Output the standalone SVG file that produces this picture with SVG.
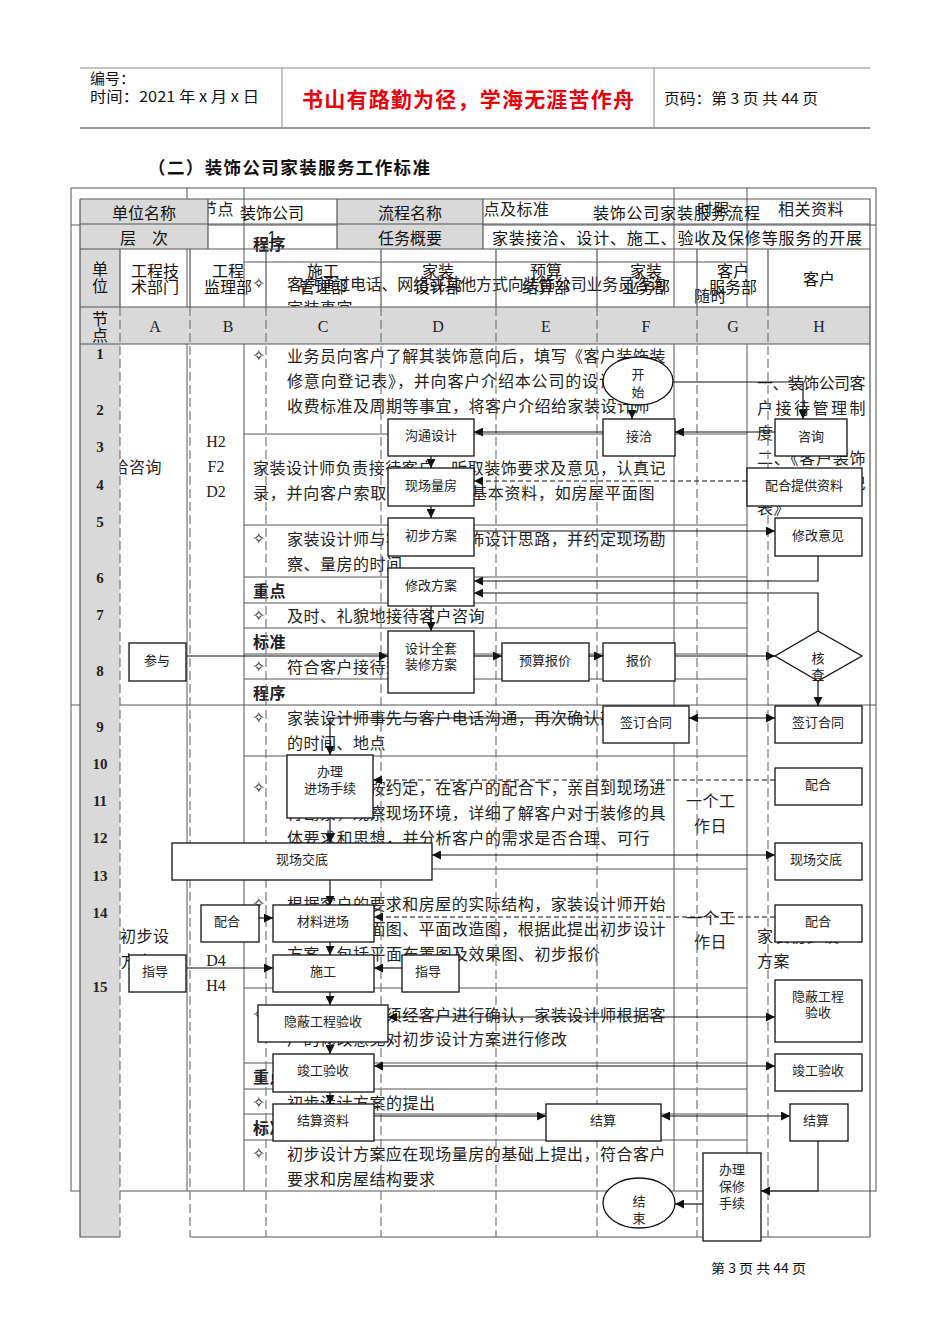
<svg xmlns="http://www.w3.org/2000/svg" width="950" height="1344" viewBox="0 0 950 1344">
<style>
.t{font-family:"Noto Sans CJK SC","Noto Sans",sans-serif;fill:#111}
.u{font-family:"Noto Sans CJK SC","Noto Sans",sans-serif;font-size:16px;fill:#222;dominant-baseline:central;letter-spacing:0.5px}
.ub{font-weight:bold}
.st{font-family:"DejaVu Sans",sans-serif;font-size:16px;fill:#222;dominant-baseline:central}
.s{font-family:"Liberation Serif",serif;font-size:16px;fill:#222;dominant-baseline:central;text-anchor:middle}
.num{font-family:"Liberation Serif",serif;font-size:15px;font-weight:bold;fill:#222;dominant-baseline:central;text-anchor:middle}
.h{font-family:"Noto Sans CJK SC","Noto Sans",sans-serif;font-size:16px;fill:#111;dominant-baseline:central;text-anchor:middle}
.b{font-family:"Noto Sans CJK SC","Noto Sans",sans-serif;font-size:13px;fill:#222;dominant-baseline:central;text-anchor:middle}
.ul{stroke:#555;stroke-width:1;fill:none}
.ol{stroke:#555;stroke-width:1.2;fill:none}
.ln{stroke:#777;stroke-width:1.2;stroke-dasharray:9 4;fill:none}
.gray{fill:#d9d9d9}
.box{fill:#fff;stroke:#111;stroke-width:1.3}
.c{stroke:#111;stroke-width:1.2;fill:none}
.cd{stroke:#111;stroke-width:1.2;fill:none;stroke-dasharray:5 3}
</style>
<defs>
<marker id="ah" viewBox="0 0 10 10" refX="10" refY="5" markerWidth="10" markerHeight="9" markerUnits="userSpaceOnUse" orient="auto-start-reverse"><path d="M0,0 L10,5 L0,10 z" fill="#111"/></marker>
</defs>
<rect width="950" height="1344" fill="#fff"/>

<!-- page header -->
<g id="page-header">
<line x1="80" y1="68" x2="870" y2="68" stroke="#888" stroke-width="1"/>
<line x1="80" y1="128" x2="870" y2="128" stroke="#999" stroke-width="2"/>
<line x1="282" y1="68" x2="282" y2="128" stroke="#888" stroke-width="1"/>
<line x1="654" y1="68" x2="654" y2="128" stroke="#888" stroke-width="1"/>
<text class="t" x="90" y="84" font-size="15">编号：</text>
<text class="t" x="90" y="102" font-size="15" textLength="169" lengthAdjust="spacingAndGlyphs">时间：2021 年 x 月 x 日</text>
<text class="t" x="302" y="107" font-size="21" font-weight="bold" style="fill:#e8000b" textLength="332" lengthAdjust="spacing">书山有路勤为径，学海无涯苦作舟</text>
<text class="t" x="664" y="104" font-size="15" textLength="154" lengthAdjust="spacingAndGlyphs">页码：第 3 页 共 44 页</text>
</g>
<text class="t" x="148" y="174" font-size="17.5" font-weight="bold" textLength="282" lengthAdjust="spacing">（二）装饰公司家装服务工作标准</text>

<!-- underlying table text -->
<g id="base-text">
<text class="u" x="201" y="208">节点</text>
<text class="u" x="467" y="208">重点及标准</text>
<text class="u" x="697" y="208">时限</text>
<text class="u" x="778" y="208">相关资料</text>
<text class="u ub" x="253" y="243">程序</text>
<text class="st" x="252" y="283">✧</text>
<text class="u" x="287" y="283" textLength="379" lengthAdjust="spacing">客户通过电话、网络或其他方式向装饰公司业务员咨询</text>
<text class="u" x="287" y="307">家装事宜</text>
<text class="u" x="694" y="295">随时</text>

<text class="st" x="252" y="355">✧</text>
<text class="u" x="287" y="355" textLength="379" lengthAdjust="spacing">业务员向客户了解其装饰意向后，填写《客户装饰装</text>
<text class="u" x="287" y="380" textLength="379" lengthAdjust="spacing">修意向登记表》，并向客户介绍本公司的设计理念、</text>
<text class="u" x="287" y="405">收费标准及周期等事宜，将客户介绍给家装设计师</text>
<text class="u" x="253" y="467" textLength="413" lengthAdjust="spacing">家装设计师负责接待客户，听取装饰要求及意见，认真记</text>
<text class="u" x="253" y="492" textLength="402" lengthAdjust="spacing">录，并向客户索取装修房屋的基本资料，如房屋平面图</text>
<text class="st" x="252" y="538">✧</text>
<text class="u" x="287" y="538" textLength="379" lengthAdjust="spacing">家装设计师与客户沟通装饰设计思路，并约定现场勘</text>
<text class="u" x="287" y="563">察、量房的时间</text>
<text class="u ub" x="253" y="590">重点</text>
<text class="st" x="252" y="615">✧</text>
<text class="u" x="287" y="615">及时、礼貌地接待客户咨询</text>
<text class="u ub" x="253" y="641">标准</text>
<text class="st" x="252" y="666">✧</text>
<text class="u" x="287" y="666">符合客户接待规范</text>
<text class="u ub" x="253" y="692">程序</text>
<text class="st" x="252" y="717">✧</text>
<text class="u" x="287" y="717" textLength="379" lengthAdjust="spacing">家装设计师事先与客户电话沟通，再次确认勘察量房</text>
<text class="u" x="287" y="742">的时间、地点</text>
<text class="st" x="252" y="787">✧</text>
<text class="u" x="287" y="787" textLength="379" lengthAdjust="spacing">家装设计师按约定，在客户的配合下，亲自到现场进</text>
<text class="u" x="287" y="812" textLength="379" lengthAdjust="spacing">行勘察，观察现场环境，详细了解客户对于装修的具</text>
<text class="u" x="287" y="837">体要求和思想，并分析客户的需求是否合理、可行</text>
<text class="st" x="252" y="903">✧</text>
<text class="u" x="287" y="903" textLength="379" lengthAdjust="spacing">根据客户的要求和房屋的实际结构，家装设计师开始</text>
<text class="u" x="287" y="928" textLength="379" lengthAdjust="spacing">绘制原始平面图、平面改造图，根据此提出初步设计</text>
<text class="u" x="287" y="953">方案，包括平面布置图及效果图、初步报价</text>
<text class="st" x="252" y="1014">✧</text>
<text class="u" x="287" y="1014" textLength="379" lengthAdjust="spacing">初步设计方案须经客户进行确认，家装设计师根据客</text>
<text class="u" x="287" y="1038">户的修改意见对初步设计方案进行修改</text>
<text class="u ub" x="253" y="1076">重点</text>
<text class="st" x="252" y="1102">✧</text>
<text class="u" x="287" y="1102">初步设计方案的提出</text>
<text class="u ub" x="253" y="1127">标准</text>
<text class="st" x="252" y="1153">✧</text>
<text class="u" x="287" y="1153" textLength="379" lengthAdjust="spacing">初步设计方案应在现场量房的基础上提出，符合客户</text>
<text class="u" x="287" y="1178">要求和房屋结构要求</text>

<text class="u" x="96" y="466">接洽咨询</text>
<text class="u" x="87" y="935">提出初步设</text>
<text class="u" x="104" y="960">计方案</text>
<text class="s" x="216" y="441">H2</text>
<text class="s" x="216" y="466">F2</text>
<text class="s" x="216" y="491">D2</text>
<text class="s" x="216" y="960">D4</text>
<text class="s" x="216" y="985">H4</text>
<text class="u" x="686" y="800">一个工</text>
<text class="u" x="694" y="825">作日</text>
<text class="u" x="686" y="917">一个工</text>
<text class="u" x="694" y="941">作日</text>
<text class="u" x="757" y="382" textLength="109" lengthAdjust="spacing">一、装饰公司客</text>
<text class="u" x="757" y="407" textLength="109" lengthAdjust="spacing">户接待管理制</text>
<text class="u" x="757" y="432">度</text>
<text class="u" x="757" y="457" textLength="109" lengthAdjust="spacing">二、《客户装饰</text>
<text class="u" x="757" y="482" textLength="109" lengthAdjust="spacing">装修意向登记</text>
<text class="u" x="757" y="507">表》</text>
<text class="u" x="757" y="935">家装初步设</text>
<text class="u" x="757" y="960">方案</text>
</g>

<!-- underlying table lines -->
<g id="base-lines" class="ul">
<rect x="71" y="188" width="805" height="1003"/>
<line x1="71" y1="225" x2="876" y2="225"/>
<line x1="71" y1="705" x2="876" y2="705"/>
<line x1="187" y1="188" x2="187" y2="1191"/>
<line x1="244" y1="188" x2="244" y2="1191"/>
<line x1="674" y1="188" x2="674" y2="1191"/>
<line x1="747" y1="188" x2="747" y2="1191"/>
<path d="M244,262H747 M244,434H747 M244,525H747 M244,577H747 M244,603H747 M244,628H747 M244,654H747 M244,679H747 M244,756H747 M244,869H747 M244,988H747 M244,1063H747 M244,1089H747 M244,1114H747 M244,1140H747"/>
</g>

<!-- swimlane chart frame -->
<g id="chart-frame">
<rect class="gray" x="80" y="199" width="128" height="50"/>
<rect class="gray" x="337" y="199" width="146" height="50"/>
<rect class="gray" x="80" y="249" width="40" height="988"/>
<rect class="gray" x="80" y="307" width="790" height="37"/>
<g class="ol">
<path d="M80,199H870V1237 M80,199V1237H120 M190,1237H870"/>
<path d="M80,224H870 M80,249H870 M80,307H870 M80,344H870"/>
<path d="M208,199V249 M337,199V249 M483,199V249"/>
<path d="M120,249V307 M190,249V307 M266,249V307 M381,249V307 M496,249V307 M597,249V307 M697,249V307 M768,249V307"/>
</g>
<path class="ln" d="M120,307V1237 M190,307V1237 M266,307V1237 M381,307V1237 M496,307V1237 M597,307V1237 M697,307V1237 M768,307V1237"/>
<text class="h" x="144" y="212">单位名称</text>
<text class="h" x="272" y="212">装饰公司</text>
<text class="h" x="410" y="212">流程名称</text>
<text class="h" x="593" y="212" style="text-anchor:start" textLength="167" lengthAdjust="spacing">装饰公司家装服务流程</text>
<text class="h" x="144" y="237">层　次</text>
<text class="h" x="272" y="237" style="font-family:'Liberation Sans',sans-serif">1</text>
<text class="h" x="410" y="237">任务概要</text>
<text class="h" x="492" y="237" style="text-anchor:start" textLength="370" lengthAdjust="spacing">家装接洽、设计、施工、验收及保修等服务的开展</text>
<text class="h" x="100" y="268">单</text><text class="h" x="100" y="285">位</text>
<text class="h" x="155" y="270">工程技</text><text class="h" x="155" y="286">术部门</text>
<text class="h" x="228" y="270">工程</text><text class="h" x="228" y="286">监理部</text>
<text class="h" x="323" y="270">施工</text><text class="h" x="323" y="286">管理部</text>
<text class="h" x="438" y="270">家装</text><text class="h" x="438" y="286">设计部</text>
<text class="h" x="546" y="270">预算</text><text class="h" x="546" y="286">结算部</text>
<text class="h" x="646" y="270">家装</text><text class="h" x="646" y="286">业务部</text>
<text class="h" x="733" y="270">客户</text><text class="h" x="733" y="286">服务部</text>
<text class="h" x="819" y="278">客户</text>
<text class="h" x="100" y="318">节</text><text class="h" x="100" y="334">点</text>
<text class="s" x="155" y="326">A</text>
<text class="s" x="228" y="326">B</text>
<text class="s" x="323" y="326">C</text>
<text class="s" x="438" y="326">D</text>
<text class="s" x="546" y="326">E</text>
<text class="s" x="646" y="326">F</text>
<text class="s" x="733" y="326">G</text>
<text class="s" x="819" y="326">H</text>
<text class="num" x="100" y="354">1</text>
<text class="num" x="100" y="410">2</text>
<text class="num" x="100" y="447">3</text>
<text class="num" x="100" y="485">4</text>
<text class="num" x="100" y="522">5</text>
<text class="num" x="100" y="578">6</text>
<text class="num" x="100" y="615">7</text>
<text class="num" x="100" y="671">8</text>
<text class="num" x="100" y="727">9</text>
<text class="num" x="100" y="764">10</text>
<text class="num" x="100" y="801">11</text>
<text class="num" x="100" y="838">12</text>
<text class="num" x="100" y="876">13</text>
<text class="num" x="100" y="913">14</text>
<text class="num" x="100" y="987">15</text>
</g>

<!-- connectors -->
<g id="connectors">
<path class="c" d="M673,382H803V419" marker-end="url(#ah)"/>
<path class="c" d="M632,405V419" marker-end="url(#ah)"/>
<path class="c" d="M775,432H675" marker-end="url(#ah)"/>
<path class="c" d="M603,432H474" marker-end="url(#ah)"/>
<path class="c" d="M431,456V468" marker-end="url(#ah)"/>
<path class="cd" d="M747,481H474" marker-end="url(#ah)"/>
<path class="c" d="M431,506V518" marker-end="url(#ah)"/>
<path class="c" d="M474,531H775" marker-end="url(#ah)"/>
<path class="c" d="M818,556V581H474" marker-end="url(#ah)"/>
<path class="c" d="M818,631V593H474" marker-end="url(#ah)"/>
<path class="c" d="M431,606V631" marker-end="url(#ah)"/>
<path class="c" d="M186,656H388" marker-end="url(#ah)"/>
<path class="c" d="M474,656H502" marker-end="url(#ah)"/>
<path class="c" d="M589,656H603" marker-end="url(#ah)"/>
<path class="c" d="M675,656H775" marker-end="url(#ah)"/>
<path class="c" d="M818,681V706" marker-end="url(#ah)"/>
<path class="c" d="M689,718H775" marker-start="url(#ah)" marker-end="url(#ah)"/>
<path class="c" d="M603,718H330V755" marker-end="url(#ah)"/>
<path class="cd" d="M775,780H373" marker-end="url(#ah)"/>
<path class="c" d="M330,818V843" marker-end="url(#ah)"/>
<path class="c" d="M432,855H775" marker-start="url(#ah)" marker-end="url(#ah)"/>
<path class="c" d="M330,880V905" marker-end="url(#ah)"/>
<path class="c" d="M259,918H273" marker-end="url(#ah)"/>
<path class="cd" d="M775,917H374" marker-end="url(#ah)"/>
<path class="c" d="M330,942V955" marker-end="url(#ah)"/>
<path class="c" d="M186,968H273" marker-end="url(#ah)"/>
<path class="c" d="M402,968H374" marker-end="url(#ah)"/>
<path class="c" d="M330,992V1005" marker-end="url(#ah)"/>
<path class="c" d="M388,1017H775" marker-start="url(#ah)" marker-end="url(#ah)"/>
<path class="c" d="M330,1042V1054" marker-end="url(#ah)"/>
<path class="c" d="M374,1066H775" marker-start="url(#ah)" marker-end="url(#ah)"/>
<path class="c" d="M330,1092V1104" marker-end="url(#ah)"/>
<path class="c" d="M374,1116H546" marker-end="url(#ah)"/>
<path class="c" d="M661,1116H790" marker-start="url(#ah)" marker-end="url(#ah)"/>
<path class="c" d="M818,1141V1191H761" marker-end="url(#ah)"/>
<path class="c" d="M703,1204H675" marker-end="url(#ah)"/>
</g>

<!-- nodes -->
<g id="n-start"><ellipse class="box" cx="638" cy="381" rx="35" ry="24"/><text class="b" x="638" y="373">开</text><text class="b" x="638" y="391">始</text></g>
<g id="n-jieqia"><rect class="box" x="603" y="419" width="72" height="37"/><text class="b" x="639" y="435">接洽</text></g>
<g id="n-zixun"><rect class="box" x="775" y="419" width="72" height="37"/><text class="b" x="811" y="435">咨询</text></g>
<g id="n-goutong"><rect class="box" x="388" y="419" width="86" height="37"/><text class="b" x="431" y="434">沟通设计</text></g>
<g id="n-liangfang"><rect class="box" x="388" y="468" width="86" height="38"/><text class="b" x="431" y="484">现场量房</text></g>
<g id="n-ziliao"><rect class="box" x="747" y="468" width="115" height="38"/><text class="b" x="804" y="484">配合提供资料</text></g>
<g id="n-chubu"><rect class="box" x="388" y="518" width="86" height="38"/><text class="b" x="431" y="534">初步方案</text></g>
<g id="n-yijian"><rect class="box" x="775" y="518" width="87" height="38"/><text class="b" x="818" y="534">修改意见</text></g>
<g id="n-xiugai"><rect class="box" x="388" y="568" width="86" height="38"/><text class="b" x="431" y="584">修改方案</text></g>
<g id="n-quantao"><rect class="box" x="388" y="631" width="86" height="62"/><text class="b" x="431" y="647">设计全套</text><text class="b" x="431" y="663">装修方案</text></g>
<g id="n-canyu"><rect class="box" x="129" y="643" width="57" height="38"/><text class="b" x="157" y="659">参与</text></g>
<g id="n-yusuan"><rect class="box" x="502" y="643" width="87" height="38"/><text class="b" x="545" y="659">预算报价</text></g>
<g id="n-baojia"><rect class="box" x="603" y="643" width="72" height="38"/><text class="b" x="639" y="659">报价</text></g>
<g id="n-hecha"><polygon class="box" points="818,631 862,656 818,681 775,656"/><text class="b" x="818" y="657">核</text><text class="b" x="818" y="673">查</text></g>
<g id="n-hetong-f"><rect class="box" x="603" y="706" width="86" height="37"/><text class="b" x="646" y="721">签订合同</text></g>
<g id="n-hetong-h"><rect class="box" x="775" y="706" width="87" height="37"/><text class="b" x="818" y="721">签订合同</text></g>
<g id="n-jinchang"><rect class="box" x="287" y="755" width="86" height="63"/><text class="b" x="330" y="770">办理</text><text class="b" x="330" y="787">进场手续</text></g>
<g id="n-peihe-h1"><rect class="box" x="775" y="768" width="87" height="37"/><text class="b" x="818" y="783">配合</text></g>
<g id="n-jiaodi-c"><rect class="box" x="172" y="843" width="260" height="37"/><text class="b" x="302" y="858">现场交底</text></g>
<g id="n-jiaodi-h"><rect class="box" x="775" y="843" width="87" height="37"/><text class="b" x="816" y="858">现场交底</text></g>
<g id="n-peihe-b"><rect class="box" x="201" y="905" width="58" height="37"/><text class="b" x="227" y="920">配合</text></g>
<g id="n-cailiao"><rect class="box" x="273" y="905" width="101" height="37"/><text class="b" x="323" y="920">材料进场</text></g>
<g id="n-peihe-h2"><rect class="box" x="775" y="905" width="87" height="37"/><text class="b" x="818" y="920">配合</text></g>
<g id="n-zhidao-a"><rect class="box" x="129" y="955" width="57" height="37"/><text class="b" x="155" y="970">指导</text></g>
<g id="n-shigong"><rect class="box" x="273" y="955" width="101" height="37"/><text class="b" x="323" y="970">施工</text></g>
<g id="n-zhidao-d"><rect class="box" x="402" y="955" width="57" height="37"/><text class="b" x="428" y="970">指导</text></g>
<g id="n-yinbi-c"><rect class="box" x="258" y="1005" width="130" height="37"/><text class="b" x="323" y="1020">隐蔽工程验收</text></g>
<g id="n-yinbi-h"><rect class="box" x="775" y="980" width="87" height="62"/><text class="b" x="818" y="995">隐蔽工程</text><text class="b" x="818" y="1011">验收</text></g>
<g id="n-jungong-c"><rect class="box" x="273" y="1054" width="101" height="38"/><text class="b" x="323" y="1069">竣工验收</text></g>
<g id="n-jungong-h"><rect class="box" x="775" y="1054" width="87" height="37"/><text class="b" x="818" y="1069">竣工验收</text></g>
<g id="n-jiesuanziliao"><rect class="box" x="273" y="1104" width="101" height="37"/><text class="b" x="323" y="1119">结算资料</text></g>
<g id="n-jiesuan"><rect class="box" x="546" y="1104" width="115" height="37"/><text class="b" x="603" y="1119">结算</text></g>
<g id="n-jiesuan-h"><rect class="box" x="790" y="1104" width="58" height="37"/><text class="b" x="816" y="1119">结算</text></g>
<g id="n-baoxiu"><rect class="box" x="703" y="1153" width="58" height="88"/><text class="b" x="732" y="1168">办理</text><text class="b" x="732" y="1185">保修</text><text class="b" x="732" y="1202">手续</text></g>
<g id="n-end"><ellipse class="box" cx="639" cy="1203" rx="36" ry="25"/><text class="b" x="639" y="1200">结</text><text class="b" x="639" y="1217">束</text></g>

<text class="t" x="711" y="1273" font-size="13" textLength="95" lengthAdjust="spacingAndGlyphs">第 3 页 共 44 页</text>
</svg>
